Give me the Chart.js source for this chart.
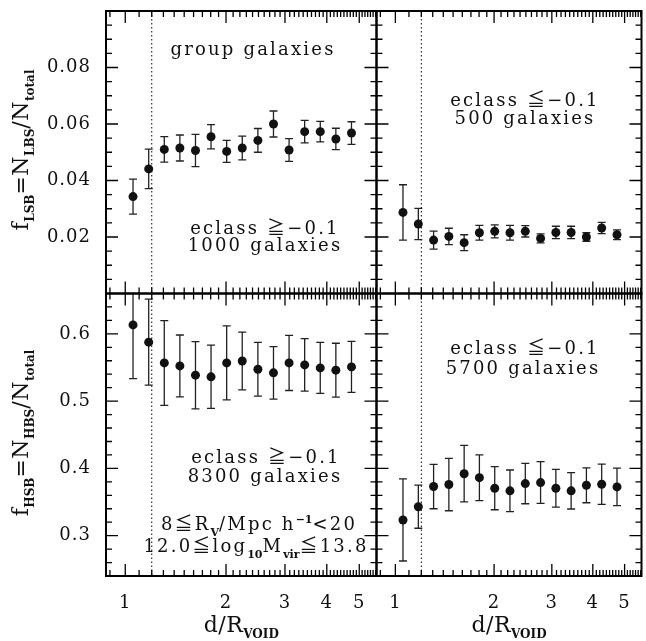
<!DOCTYPE html>
<html>
<head>
<meta charset="utf-8">
<script src="https://cdn.jsdelivr.net/npm/chart.js@4.4.1/dist/chart.umd.min.js"></script>
<style>
    html, body { margin: 0; padding: 0; background: #fff; }
    #wrap { position: relative; width: 646px; height: 641px; }
    #wrap canvas { position: absolute; left: 0; top: 0; }
</style>
</head>
<body>
<div id="wrap">
    <canvas id="panelTL" width="646" height="641"></canvas>
    <canvas id="panelTR" width="646" height="641"></canvas>
    <canvas id="panelBL" width="646" height="641"></canvas>
    <canvas id="panelBR" width="646" height="641"></canvas>
</div>
<script>
// d/R_void bin centres (log bins from 1 to 5)
var dBins = [1.055, 1.175, 1.308, 1.456, 1.621, 1.804, 2.009, 2.236, 2.490, 2.772, 3.086, 3.435, 3.824, 4.257, 4.740];

// f_LSB, eclass >= -0.1 (1000 galaxies)
var lsbRed    = [0.0343, 0.0441, 0.0510, 0.0515, 0.0506, 0.0555, 0.0503, 0.0515, 0.0542, 0.0600, 0.0508, 0.0573, 0.0573, 0.0547, 0.0568];
var lsbRedErr = [0.0062, 0.0070, 0.0045, 0.0046, 0.0057, 0.0043, 0.0039, 0.0042, 0.0042, 0.0046, 0.0040, 0.0040, 0.0036, 0.0038, 0.0040];

// f_LSB, eclass <= -0.1 (500 galaxies)
var lsbBlue    = [0.0287, 0.0246, 0.0189, 0.0202, 0.0180, 0.0215, 0.0220, 0.0215, 0.0220, 0.0195, 0.0216, 0.0216, 0.0200, 0.0232, 0.0208];
var lsbBlueErr = [0.0098, 0.0055, 0.0032, 0.0029, 0.0028, 0.0026, 0.0023, 0.0026, 0.0020, 0.0016, 0.0022, 0.0022, 0.0015, 0.0020, 0.0017];

// f_HSB, eclass >= -0.1 (8300 galaxies)
var hsbRed    = [0.6133, 0.5877, 0.5568, 0.5523, 0.5386, 0.5361, 0.5568, 0.5597, 0.5474, 0.5420, 0.5568, 0.5538, 0.5494, 0.5460, 0.5509];
var hsbRedErr = [0.080, 0.064, 0.063, 0.046, 0.050, 0.047, 0.055, 0.043, 0.040, 0.039, 0.041, 0.039, 0.038, 0.040, 0.038];

// f_HSB, eclass <= -0.1 (5700 galaxies)
var hsbBlue    = [0.3233, 0.3430, 0.3730, 0.3760, 0.3921, 0.3862, 0.3705, 0.3666, 0.3774, 0.3789, 0.3705, 0.3666, 0.3749, 0.3764, 0.3725];
var hsbBlueErr = [0.061, 0.032, 0.033, 0.039, 0.042, 0.034, 0.032, 0.031, 0.030, 0.031, 0.028, 0.027, 0.026, 0.030, 0.028];

// ticks
var xTickLabels = [1, 2, 3, 4, 5];
var lsbTickLabels = [0.02, 0.04, 0.06, 0.08];
var hsbTickLabels = [0.3, 0.4, 0.5, 0.6];
var voidEdge = 1.2;

var SERIF = "'DejaVu Serif', 'Noto Sans CJK JP', serif";

function range(from, to, step) {
    var out = [];
    for (var v = from; v <= to + step / 10; v += step) out.push(Math.round(v * 1e6) / 1e6);
    return out;
}

var xMinor = range(0.9, 5.6, 0.1);
var lsbMinor = range(0.005, 0.095, 0.005);
var hsbMinor = range(0.26, 0.64, 0.02);

// st = { size, sub, spacing }
function setFont(ctx, p, st) {
    if (p.sub || p.sup) {
        ctx.font = 'bold ' + st.sub + 'px ' + SERIF;
        if ('letterSpacing' in ctx) ctx.letterSpacing = '0px';
    } else {
        ctx.font = st.size + 'px ' + SERIF;
        if ('letterSpacing' in ctx) ctx.letterSpacing = st.spacing + 'px';
    }
}

function drawRich(ctx, parts, x, y, st) {
    var w = 0;
    parts.forEach(function (p) { setFont(ctx, p, st); w += ctx.measureText(p.t).width; });
    var cx = x - w / 2;
    ctx.textAlign = 'left';
    parts.forEach(function (p) {
        setFont(ctx, p, st);
        var dy = p.sub ? st.sub * 0.5 : (p.sup ? -st.size * 0.4 : 0);
        ctx.fillText(p.t, cx, y + dy);
        cx += ctx.measureText(p.t).width;
    });
}

var noteStyle = { size: 18, sub: 11, spacing: 2.2 };
var titleStyle = { size: 22, sub: 12, spacing: 0.5 };

var panelDeco = {
    id: 'panelDeco',
    beforeDatasetsDraw: function (chart, args, o) {
        var ctx = chart.ctx, a = chart.chartArea;
        var xs = chart.scales.x, ys = chart.scales.y;
        ctx.save();
        ctx.beginPath();
        ctx.rect(a.left, a.top, a.right - a.left, a.bottom - a.top);
        ctx.clip();

        // void edge
        var vx = xs.getPixelForValue(voidEdge);
        ctx.strokeStyle = '#000';
        ctx.lineWidth = 1;
        ctx.setLineDash([1.5, 2.5]);
        ctx.beginPath();
        ctx.moveTo(vx, a.top);
        ctx.lineTo(vx, a.bottom);
        ctx.stroke();
        ctx.setLineDash([]);

        // error bars
        ctx.strokeStyle = '#222';
        ctx.lineWidth = 1.3;
        o.vals.forEach(function (v, i) {
            var px = xs.getPixelForValue(dBins[i]);
            var y1 = ys.getPixelForValue(v - o.errs[i]);
            var y2 = ys.getPixelForValue(v + o.errs[i]);
            ctx.beginPath();
            ctx.moveTo(px, y1); ctx.lineTo(px, y2);
            ctx.moveTo(px - 4, y1); ctx.lineTo(px + 4, y1);
            ctx.moveTo(px - 4, y2); ctx.lineTo(px + 4, y2);
            ctx.stroke();
        });
        ctx.restore();
    },
    afterDraw: function (chart, args, o) {
        var ctx = chart.ctx, a = chart.chartArea;
        var xs = chart.scales.x, ys = chart.scales.y;
        ctx.save();
        ctx.strokeStyle = '#000';
        ctx.fillStyle = '#111';

        // ticks on all four sides
        ctx.lineWidth = 1.3;
        ctx.beginPath();
        xMinor.forEach(function (v) {
            if (v <= xs.min || v >= xs.max) return;
            var px = xs.getPixelForValue(v);
            var len = xTickLabels.indexOf(v) >= 0 ? 12 : 6;
            ctx.moveTo(px, a.top); ctx.lineTo(px, a.top + len);
            ctx.moveTo(px, a.bottom); ctx.lineTo(px, a.bottom - len);
        });
        o.yMinor.forEach(function (v) {
            if (v <= ys.min || v >= ys.max) return;
            var py = ys.getPixelForValue(v);
            var len = o.yMajor.indexOf(v) >= 0 ? 12 : 6;
            ctx.moveTo(a.left, py); ctx.lineTo(a.left + len, py);
            ctx.moveTo(a.right, py); ctx.lineTo(a.right - len, py);
        });
        o.yMajor.forEach(function (v) {
            var py = ys.getPixelForValue(v);
            ctx.moveTo(a.left, py); ctx.lineTo(a.left + 12, py);
            ctx.moveTo(a.right, py); ctx.lineTo(a.right - 12, py);
        });
        ctx.stroke();

        // frame
        ctx.lineWidth = 2;
        ctx.strokeRect(a.left, a.top, a.right - a.left, a.bottom - a.top);

        // tick labels
        ctx.font = '18px ' + SERIF;
        if ('letterSpacing' in ctx) ctx.letterSpacing = '1px';
        if (o.yLabels) {
            ctx.textAlign = 'right';
            ctx.textBaseline = 'middle';
            o.yMajor.forEach(function (v) {
                ctx.fillText(o.yFmt(v), a.left - 15, ys.getPixelForValue(v));
            });
        }
        ctx.textBaseline = 'alphabetic';
        if (o.xLabels) {
            ctx.textAlign = 'center';
            xTickLabels.forEach(function (v) {
                ctx.fillText(String(v), xs.getPixelForValue(v), 608);
            });
            drawRich(ctx, [{ t: 'd/R' }, { t: 'VOID', sub: true }], (a.left + a.right) / 2, 632, titleStyle);
        }

        if (o.yTitle) {
            ctx.save();
            ctx.translate(28, o.yTitleY);
            ctx.rotate(-Math.PI / 2);
            drawRich(ctx, o.yTitle, 0, 0, titleStyle);
            ctx.restore();
        }

        (o.notes || []).forEach(function (n) {
            drawRich(ctx, n.parts, n.x, n.y, noteStyle);
        });
        ctx.restore();
    }
};

function makePanel(id, pad, yMin, yMax, vals, errs, deco) {
    deco.vals = vals;
    deco.errs = errs;
    return new Chart(document.getElementById(id).getContext('2d'), {
        type: 'scatter',
        data: {
            datasets: [{
                data: dBins.map(function (d, i) { return { x: d, y: vals[i] }; }),
                pointRadius: 4.5,
                pointBackgroundColor: '#111',
                pointBorderWidth: 0,
                showLine: false
            }]
        },
        options: {
            responsive: false,
            animation: false,
            layout: { padding: pad },
            events: [],
            plugins: { legend: { display: false }, tooltip: { enabled: false }, panelDeco: deco },
            scales: {
                x: { type: 'logarithmic', min: 0.876, max: 5.63, display: false },
                y: { type: 'linear', min: yMin, max: yMax, display: false }
            }
        },
        plugins: [panelDeco]
    });
}

var fmt2 = function (v) { return v.toFixed(2); };
var fmt1 = function (v) { return v.toFixed(1); };

makePanel('panelTL', { left: 106, right: 269.5, top: 11, bottom: 347.5 }, 0, 0.1, lsbRed, lsbRedErr, {
    yMajor: lsbTickLabels, yMinor: lsbMinor, yLabels: true, yFmt: fmt2, xLabels: false,
    yTitle: [{ t: 'f' }, { t: 'LSB', sub: true }, { t: '=N' }, { t: 'LBS', sub: true }, { t: '/N' }, { t: 'total', sub: true }],
    yTitleY: 150,
    notes: [
        { parts: [{ t: 'group galaxies' }], x: 253, y: 55 },
        { parts: [{ t: 'eclass ≧−0.1' }], x: 265, y: 234 },
        { parts: [{ t: '1000 galaxies' }], x: 265, y: 251 }
    ]
});

makePanel('panelTR', { left: 376.5, right: 2, top: 11, bottom: 347.5 }, 0, 0.1, lsbBlue, lsbBlueErr, {
    yMajor: lsbTickLabels, yMinor: lsbMinor, yLabels: false, xLabels: false,
    notes: [
        { parts: [{ t: 'eclass ≦−0.1' }], x: 525, y: 106 },
        { parts: [{ t: '500 galaxies' }], x: 525, y: 124 }
    ]
});

makePanel('panelBL', { left: 106, right: 269.5, top: 293.5, bottom: 65 }, 0.24, 0.66, hsbRed, hsbRedErr, {
    yMajor: hsbTickLabels, yMinor: hsbMinor, yLabels: true, yFmt: fmt1, xLabels: true,
    yTitle: [{ t: 'f' }, { t: 'HSB', sub: true }, { t: '=N' }, { t: 'HBS', sub: true }, { t: '/N' }, { t: 'total', sub: true }],
    yTitleY: 433,
    notes: [
        { parts: [{ t: 'eclass ≧−0.1' }], x: 266, y: 463 },
        { parts: [{ t: '8300 galaxies' }], x: 265, y: 482 },
        { parts: [{ t: '8≦R' }, { t: 'V', sub: true }, { t: '/Mpc h' }, { t: '−1', sup: true }, { t: '<20' }], x: 259, y: 530 },
        { parts: [{ t: '12.0≦log' }, { t: '10', sub: true }, { t: 'M' }, { t: 'vir', sub: true }, { t: '≦13.8' }], x: 256, y: 552 }
    ]
});

makePanel('panelBR', { left: 376.5, right: 2, top: 293.5, bottom: 65 }, 0.24, 0.66, hsbBlue, hsbBlueErr, {
    yMajor: hsbTickLabels, yMinor: hsbMinor, yLabels: false, xLabels: true,
    notes: [
        { parts: [{ t: 'eclass ≦−0.1' }], x: 525, y: 354 },
        { parts: [{ t: '5700 galaxies' }], x: 523, y: 374 }
    ]
});
</script>
</body>
</html>
